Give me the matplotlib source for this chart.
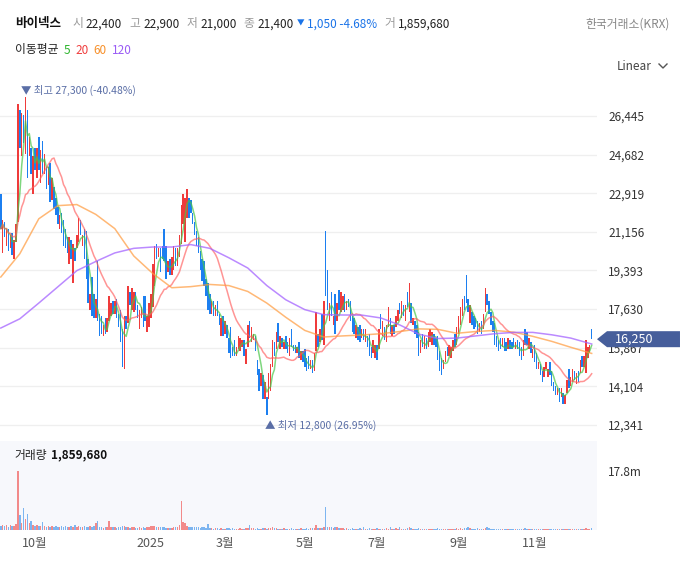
import numpy as np
import pandas as pd
import matplotlib
matplotlib.use('Agg')
import matplotlib.pyplot as plt
from matplotlib.patches import Polygon
from matplotlib.lines import Line2D

plt.rcParams['font.family'] = ['Noto Sans CJK KR', 'DejaVu Sans']

# daily candles, 2024-09-02 .. 2025-12
opens = [
    22900, 20200, 21600, 20500, 21300, 20400, 21100, 19900, 20700, 21600,
    26700, 24600, 26500, 24700, 26700, 24600, 25000, 22900, 25000, 23600,
    25500, 23400, 25300, 23800, 24100, 23300, 24300, 22600, 23200, 22700,
    22300, 21300, 22000, 21700, 21300, 20900, 19700, 20800, 18800, 20400,
    20400, 20700, 21700, 20500, 21300, 21200, 19900, 17600, 19100, 18300,
    17200, 19800, 17400, 17300, 16400, 17200, 16600, 17100, 17300, 18000,
    17400, 18100, 17400, 17600, 16700, 14900, 17300, 17000, 18400, 17600,
    17500, 18400, 17800, 16700, 17200, 18200, 18200, 16600, 16800, 17200,
    17700, 18700, 20600, 20000, 20400, 20500, 21300, 20500, 19300, 19900,
    19200, 19400, 20400, 19600, 20000, 20600, 21500, 20700, 21800, 22700,
    22600, 22000, 21600, 21200, 20900, 20300, 19900, 19800, 19000, 18800,
    18300, 17400, 18000, 17300, 18000, 17400, 16400, 17300, 16500, 16900,
    16300, 16800, 15900, 16200, 15500, 15800, 15700, 15900, 16200, 15100,
    15900, 17100, 16100, 16200, 16400, 15300, 14900, 14100, 14600, 13500,
    13600, 13500, 13900, 15000, 16100, 15800, 17000, 15800, 16300, 15800,
    16400, 16100, 15500, 16700, 16000, 16000, 15600, 16100, 15300, 15700,
    15800, 15400, 15500, 14900, 15300, 14800, 15700, 16500, 16100, 17400,
    16000, 21200, 19400, 17100, 18400, 16900, 18300, 17100, 18500, 17500,
    17600, 18300, 17600, 18100, 18000, 17300, 17200, 16300, 16800, 16900,
    16300, 16700, 16100, 16400, 16500, 15900, 15600, 15400, 16000, 15800,
    17400, 16400, 16800, 16100, 16800, 17200, 16400, 16900, 16800, 17100,
    17900, 17200, 17800, 17100, 18400, 17500, 17900, 16900, 17100, 16900,
    16600, 15600, 16500, 15800, 16300, 15900, 16100, 16000, 16500, 16300,
    16400, 15700, 15400, 14900, 15200, 15900, 15500, 15400, 15700, 16500,
    16000, 16500, 16900, 17300, 18200, 19200, 18100, 17000, 17500, 17300,
    17200, 17100, 16600, 17100, 16700, 17500, 18300, 18000, 17500, 17100,
    17000, 16400, 16200, 16300, 15900, 16300, 16100, 15800, 16200, 16100,
    16300, 15800, 16200, 16100, 15900, 15500, 16700, 16600, 15800, 16100,
    15400, 16000, 15600, 14900, 15100, 14800, 14500, 14900, 14500, 15200,
    14800, 14300, 14100, 13700, 14000, 13600, 13800, 13300, 13800, 14900,
    14100, 14300, 14800, 14200, 14800, 14700, 15500, 15000, 14700, 15400,
    15600, 16700,
]
closes = [
    21300, 21700, 20900, 21300, 20300, 21000, 20100, 20800, 21500, 27000,
    25000, 26600, 25200, 27300, 23600, 25500, 23800, 24600, 24000, 25000,
    24000, 24900, 23800, 24700, 23100, 24100, 22500, 23600, 22200, 21900,
    21500, 21900, 21100, 20500, 20400, 20200, 20900, 19900, 20600, 19800,
    21000, 21800, 21000, 21000, 19900, 19000, 17900, 18300, 17300, 17200,
    18100, 17100, 16400, 16500, 16900, 16500, 17200, 18200, 17900, 17400,
    18000, 17200, 16800, 16100, 15000, 17300, 16700, 18700, 17800, 18600,
    18400, 17600, 17200, 17600, 17700, 16800, 17100, 17300, 17900, 18300,
    19700, 20500, 19900, 20400, 19300, 19900, 19800, 19000, 19800, 19200,
    20000, 20500, 19600, 20400, 21000, 22400, 22900, 22700, 23100, 21800,
    22000, 21500, 21000, 20500, 20200, 19400, 18900, 18700, 18200, 17600,
    17400, 18000, 17300, 17800, 17300, 16900, 17200, 16400, 17100, 16300,
    15600, 15400, 15500, 15500, 15900, 16400, 16300, 16200, 15500, 15800,
    16900, 16300, 16800, 16500, 15700, 14600, 13900, 14700, 13500, 14300,
    12800, 14700, 15100, 16200, 15500, 16600, 16100, 16400, 15900, 16100,
    15800, 15600, 16300, 15900, 15700, 15600, 15900, 15400, 15700, 15200,
    15000, 14800, 14900, 15300, 14700, 15600, 17500, 15900, 16700, 16200,
    18000, 18200, 17600, 17900, 17300, 17300, 16500, 17900, 17600, 18400,
    18200, 17500, 18000, 17700, 17100, 16600, 16500, 16900, 16200, 16100,
    16700, 16200, 16700, 15900, 15500, 15400, 16200, 16000, 15300, 16700,
    16700, 17100, 16200, 16900, 17700, 16500, 16900, 16500, 17300, 17600,
    17400, 18000, 17300, 17800, 17700, 18800, 17000, 17200, 16500, 16300,
    15500, 16200, 15900, 16400, 15800, 16600, 16700, 16600, 16000, 15900,
    15300, 14800, 14600, 15300, 15700, 15500, 16000, 15900, 16200, 15900,
    16800, 17300, 17700, 18100, 17600, 17900, 17500, 17800, 16900, 16700,
    16800, 16500, 17000, 16500, 17400, 18600, 17800, 17400, 16900, 16600,
    16000, 15900, 15700, 15800, 16300, 15700, 15700, 16300, 15800, 15800,
    15900, 16100, 15800, 15500, 15300, 16200, 16000, 16000, 16300, 15600,
    15800, 15200, 14900, 15200, 14600, 14300, 15000, 15200, 14900, 14600,
    14100, 13900, 13700, 14000, 13400, 14000, 13300, 13700, 14400, 14000,
    14500, 14900, 14400, 14700, 14300, 15300, 15000, 15500, 16200, 15900,
    16000, 16250,
]
# volume in millions of shares
volume_m = [
    1.3, 1.5, 1.2, 1.4, 1.0, 1.6, 1.1, 1.3, 1.7,
    17.8, 4.5, 2.2, 6.5, 3.2, 4.8, 2.0, 2.7, 1.4, 1.2, 1.5, 1.1, 1.3, 2.3, 1.2, 1.0,
    1.1, 0.9, 1.2, 1.0, 1.3, 0.9, 1.0, 1.2, 0.8, 1.1, 1.0, 0.9, 1.2, 1.0, 1.4, 0.9,
    1.1, 1.0, 0.8, 1.2, 1.0, 0.9, 1.1, 1.0,
    1.3, 2.0, 2.7, 0.8, 0.9, 0.7, 0.8, 0.9, 2.7,
    1.0, 0.8, 0.9, 0.7, 1.0, 0.9, 1.2, 1.1, 0.8, 1.0, 0.7, 0.8, 0.9, 0.6, 0.7, 0.8,
    0.6, 0.9, 0.7, 0.8, 1.0, 1.2, 1.3, 1.1, 0.9, 0.8, 0.9, 1.0, 0.8, 0.7, 0.6, 0.7,
    0.6, 0.8, 0.9, 1.0, 1.4,
    8.7, 2.5, 2.0,
    1.2, 1.0, 0.9, 1.0, 0.8, 0.9, 0.8, 0.7, 0.9, 0.8, 0.7, 1.7,
    0.6, 0.5, 0.4, 0.6, 0.5, 0.4, 0.5, 0.3, 0.4, 0.5, 0.6, 0.4, 0.5, 0.4, 0.3, 0.4,
    0.5, 0.4, 0.3, 0.5, 0.6,
    1.4,
    0.6, 0.5, 0.4, 0.5, 0.3, 0.4, 0.5, 0.6, 0.4, 0.5, 0.7, 1.0, 0.6, 0.5, 0.4, 0.3,
    0.4, 0.5, 0.3, 0.4, 0.3, 0.5, 0.4, 0.3, 0.4, 0.3, 0.5, 0.4, 0.3, 0.6, 0.4, 0.5,
    0.7, 0.5,
    1.5, 0.6, 0.7, 0.5, 0.9,
    6.8,
    1.0, 0.8, 0.9, 0.7, 1.0, 0.8, 0.7, 0.6,
    0.5, 0.4, 0.5, 0.3, 0.4, 0.5, 0.4, 0.3, 0.4, 0.5, 0.4, 0.8,
    0.4, 0.3, 0.5, 0.4, 0.3, 0.4, 0.5, 0.3, 0.4, 0.3, 0.4, 0.5,
    0.4, 0.8, 0.4, 0.3, 0.5, 0.4, 0.8, 0.4, 0.3, 0.4, 0.5, 1.0,
    0.5, 0.4, 0.3, 0.4, 0.5, 0.3, 0.4, 0.3, 0.4, 0.3, 0.4, 0.3,
    0.4, 0.3, 0.5, 0.4, 0.3, 0.4, 0.3, 0.4, 0.3, 0.4, 0.3, 0.4,
    0.5, 0.4, 0.5, 0.4, 0.6, 0.5, 1.0, 0.5, 0.4, 0.3, 0.4, 0.5,
    0.4, 0.3, 0.4, 0.6, 1.0, 0.5, 0.4, 0.3, 0.4, 0.3, 0.4, 0.3,
    0.4, 0.3, 0.4, 0.3, 0.3, 0.4, 0.3, 0.4, 0.3, 0.3, 0.4, 0.3,
    0.6, 0.4, 0.3, 0.4, 0.3, 0.4, 0.3, 0.3, 0.4, 0.3, 0.4, 0.3,
    0.4, 0.3, 0.3, 0.4, 0.3, 0.4, 0.3, 0.3, 0.4, 0.3, 0.4, 0.3,
    0.3, 0.4, 0.3, 0.4, 0.3, 0.4, 0.3, 0.4, 0.5, 0.4, 0.3, 0.7,
]

# 60 / 120 day averages read every 10 candles (history before the window is not shown)
ma_idx = [0, 10, 20, 30, 40, 50, 60, 70, 80, 90, 100, 110, 120, 130, 140, 150,
          160, 170, 180, 190, 200, 210, 220, 230, 240, 250, 260, 270, 280, 290, 300, 311]
ma60 = [19090, 20150, 21750, 22350, 22400, 21950, 21300, 20050, 19250, 18600,
        18650, 18750, 18700, 18430, 17900, 17250, 16650, 16350, 16400, 16440,
        16500, 16600, 16720, 16700, 16520, 16600, 16650, 16570, 16380, 16150,
        15880, 15600]
ma120 = [16760, 17180, 17900, 18640, 19380, 19800, 20190, 20400, 20460, 20460,
         20570, 20400, 19970, 19500, 18700, 18050, 17600, 17370, 17355, 17350,
         17220, 16900, 16480, 16280, 16300, 16400, 16500, 16560, 16560, 16450,
         16300, 16030]

month_idx = [18, 79, 118, 160, 198, 241, 281]
month_labels = ['10월', '2025', '3월', '5월', '7월', '9월', '11월']
price_ticks = [12341, 14104, 15867, 17630, 19393, 21156, 22919, 24682, 26445]

# header quote
quote = [('시', '22,400'), ('고', '22,900'), ('저', '21,000'), ('종', '21,400')]
change = '1,050 -4.68%'
day_volume = '1,859,680'

RED = '#ef3b3b'
BLUE = '#1c7ff0'

df = pd.DataFrame({'open': opens, 'close': closes, 'volume': volume_m})
df['ma5'] = df['close'].rolling(5, min_periods=1).mean()
df['ma20'] = df['close'].rolling(20, min_periods=1).mean()
x = np.arange(len(df))
up = (df['close'] >= df['open']).values

W, H = 683, 578
fig = plt.figure(figsize=(W / 100, H / 100), dpi=100)
renderer = fig.canvas.get_renderer()


def fx(px):
    return px / W


def fy(py):
    return 1 - py / H


def put(px, py, s, gap=0, **kw):
    # write text at pixel x and return the pixel x where it ends (+gap)
    t = fig.text(fx(px), fy(py), s, va='center', ha='left', **kw)
    return t.get_window_extent(renderer).x1 + gap


ax = fig.add_axes([0, fy(437), fx(597), (437 - 80) / H])
axv = fig.add_axes([0, fy(530), fx(597), (530 - 441) / H])

# candles
lo = np.minimum(df['open'], df['close'])
hgt = (df['close'] - df['open']).abs().clip(lower=60)
ax.bar(x, hgt, bottom=lo, width=0.75, color=np.where(up, RED, BLUE),
       linewidth=0, zorder=2)

# moving averages
ax.plot(x, df['ma5'], color='#49c649', lw=1.1, alpha=0.7, zorder=3)
ax.plot(x, df['ma20'], color='#ff5c5c', lw=1.1, alpha=0.65, zorder=3)
ax.plot(ma_idx, ma60, color='#ff9a3c', lw=1.1, alpha=0.7, zorder=3)
ax.plot(ma_idx, ma120, color='#a463ff', lw=1.1, alpha=0.75, zorder=3)

ax.set_xlim(-0.42, 313.8)
ax.set_ylim(11782, 28089)
ax.set_xticks([])
ax.set_yticks(price_ticks)
ax.set_yticklabels([f'{v:,}' for v in price_ticks])
ax.yaxis.tick_right()
ax.tick_params(axis='y', length=0, pad=8, labelsize=8.5, labelcolor='#333333')
ax.grid(axis='y', color='#efefef', lw=0.9)
ax.set_axisbelow(True)
for s in ax.spines.values():
    s.set_visible(False)

# high / low markers
highs = np.maximum(df['open'], df['close']).values
lows = np.minimum(df['open'], df['close']).values
last = closes[-1]
imax, imin = int(np.argmax(highs)), int(np.argmin(lows))
hi, lw_ = highs[imax], lows[imin]
ax.annotate(f'▼ 최고 {hi:,} ({(last - hi) / hi * 100:.2f}%)', xy=(imax, hi),
            xytext=(-3.5, 5), textcoords='offset points', ha='left', va='center',
            fontsize=7.5, color='#5a6ea6', fontweight='medium')
ax.annotate(f'▲ 최저 {lw_:,} ({(last - lw_) / lw_ * 100:.2f}%)', xy=(imin, lw_),
            xytext=(-1.5, -8), textcoords='offset points', ha='left', va='center',
            fontsize=7.5, color='#5a6ea6', fontweight='medium')

# last price tag
tr = ax.get_yaxis_transform()
half = 8 * (28089 - 11782) / 357
tag = Polygon([(1.0, last), (1.0168, last + half), (1.139, last + half),
               (1.139, last - half), (1.0168, last - half)], closed=True,
              transform=tr, clip_on=False, fc='#465e9b', ec='none', zorder=5)
ax.add_patch(tag)
ax.text(1.03, last, f'{last:,}', transform=tr, ha='left', va='center',
        color='white', fontsize=9, zorder=6, clip_on=False)

# volume panel
axv.set_facecolor('#f7f8fc')
axv.bar(x, df['volume'], width=0.75, color=np.where(up, '#f28a8a', '#7db5f0'),
        linewidth=0)
vmax = df['volume'].max()
axv.set_xlim(-0.42, 313.8)
axv.set_ylim(0, vmax * 1.508)
axv.set_yticks([vmax])
axv.set_yticklabels([f'{vmax:.1f}m'])
axv.yaxis.tick_right()
axv.tick_params(axis='y', length=0, pad=8, labelsize=8.5, labelcolor='#333333')
axv.set_xticks(month_idx)
axv.set_xticklabels(month_labels)
axv.tick_params(axis='x', length=0, pad=5, labelsize=9, labelcolor='#555555')
for s in axv.spines.values():
    s.set_visible(False)
nx = put(14, 455, '거래량', gap=4, fontsize=8.5, color='#222222')
put(nx, 455, day_volume, fontsize=8.5, color='#111111', fontweight='bold')

# header
hy = 24
nx = put(15, hy, '바이넥스', gap=11, fontsize=9, fontweight='bold', color='#111111')
for lab, val in quote:
    nx = put(nx, hy, lab, gap=3, fontsize=8.5, color='#9a9a9a')
    nx = put(nx, hy, val, gap=7, fontsize=8.5, color='#222222', fontweight='medium')
nx = put(nx - 4, hy - 1, '▼', gap=3, fontsize=5.5, color='#1a73e8')
nx = put(nx, hy, change, gap=7, fontsize=8.5, color='#1a73e8', fontweight='medium')
nx = put(nx, hy, '거', gap=3, fontsize=8.5, color='#9a9a9a')
put(nx, hy, day_volume, fontsize=8.5, color='#222222', fontweight='medium')
fig.text(fx(670), fy(hy), '한국거래소(KRX)', fontsize=8.5, color='#888888',
         va='center', ha='right')

ly = 50
nx = put(15, ly, '이동평균', gap=5, fontsize=8.5, color='#222222')
for s, c in [('5', '#2eb52e'), ('20', '#f03e3e'), ('60', '#f7902a'), ('120', '#9a5cf5')]:
    nx = put(nx, ly, s, gap=5, fontsize=8.5, color=c)

fig.text(fx(652), fy(66), 'Linear', fontsize=8.5, color='#444444', va='center', ha='right')
fig.add_artist(Line2D([fx(659), fx(663), fx(667)], [fy(64), fy(68), fy(64)],
                      color='#555555', lw=1.0, transform=fig.transFigure))

fig.savefig('out.png', dpi=100, facecolor='white')
